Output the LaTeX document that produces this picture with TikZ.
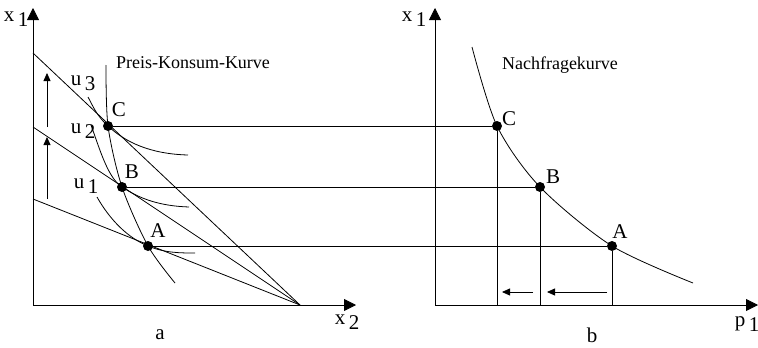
\documentclass[tikz,border=0pt]{standalone}
\usepackage{fontspec}
\setmainfont{Liberation Serif}
\usetikzlibrary{arrows.meta}
\newcommand{\idx}[2]{#1\,\raisebox{-0.55ex}{#2}}

\begin{document}
\begin{tikzpicture}[x=1pt, y=-1pt, line width=0.8pt, every node/.style={font=\fontsize{21}{24}\selectfont, inner sep=1pt}, axis/.style={-{Triangle[length=12pt,width=12pt]}}, shiftarr/.style={-{Triangle[length=8pt,width=7pt]}}, dot/.style={circle, fill, inner sep=0pt, minimum size=10pt}, note/.style={font=\fontsize{18}{20}\selectfont}]
	\useasboundingbox (0,0) rectangle (758,348);
	% panel a
	\coordinate (Oa) at (33,305);
	\coordinate (Ya) at (33,8);
	\coordinate (Xa) at (356,305);
	\coordinate (P) at (300,305);
	\coordinate (b1) at (33,199);
	\coordinate (b2) at (33,127);
	\coordinate (b3) at (33,53);
	\draw[axis] (Oa) -- (Ya);
	\draw[axis] (Oa) -- (Xa);
	\draw (b1) -- (P);
	\draw (b2) -- (P);
	\draw (b3) -- (P);
	\node[dot] (A) at (148,246) {};
	\node[dot] (B) at (122,187) {};
	\node[dot] (C) at (108,126) {};
	% indifference curves
	\draw (97,197) .. controls (110,220) and (128,238) .. (A.center) .. controls (165,253) and (180,253) .. (195,253);
	\draw (91,125) .. controls (100,150) and (108,178) .. (B.center) .. controls (140,199) and (160,206) .. (189,207);
	\draw (88,97) .. controls (93,106) and (96,115) .. (C.center) .. controls (125,142) and (150,154) .. (188,155);
	\draw plot[smooth] coordinates {(106,65) (C.center) (B.center) (A.center) (175,283)};
	\draw[shiftarr] (47,199) -- (47,137);
	\draw[shiftarr] (47,127) -- (47,73);
	\node (la) at (158,231) {A};
	\node (lb) at (132,172) {B};
	\node (lc) at (119,110) {C};
	\node (u1) at (86,186) {\idx{u}{1}};
	\node (u2) at (83,131) {\idx{u}{2}};
	\node (u3) at (83,83) {\idx{u}{3}};
	\node[note] (pkk) at (193,63) {Preis-Konsum-Kurve};
	\node (ya) at (16,19) {\idx{x}{1}};
	\node (xa) at (347,322) {\idx{x}{2}};
	\node (na) at (160,335) {a};
	% panel b
	\coordinate (Ob) at (435,305);
	\coordinate (Yb) at (435,8);
	\coordinate (Xb) at (758,305);
	\draw[axis] (Ob) -- (Yb);
	\draw[axis] (Ob) -- (Xb);
	\node[dot] (A') at (612,246) {};
	\node[dot] (B') at (540,187) {};
	\node[dot] (C') at (497,126) {};
	\draw plot[smooth] coordinates {(472,47) (C'.center) (B'.center) (A'.center) (693,283)};
	\draw (A) -- (A');
	\draw (B) -- (B');
	\draw (C) -- (C');
	\draw (A') -- (A' |- Ob);
	\draw (B') -- (B' |- Ob);
	\draw (C') -- (C' |- Ob);
	\draw[shiftarr] (533,292) -- (502,292);
	\draw[shiftarr] (607,292) -- (547,292);
	\node (la') at (620,232) {A};
	\node (lb') at (553,177) {B};
	\node (lc') at (509,119) {C};
	\node[note] (nfk) at (560,65) {Nachfragekurve};
	\node (yb) at (414,19) {\idx{x}{1}};
	\node (xb) at (747,324) {\idx{p}{1}};
	\node (nb) at (592,335) {b};
\end{tikzpicture}
\end{document}
